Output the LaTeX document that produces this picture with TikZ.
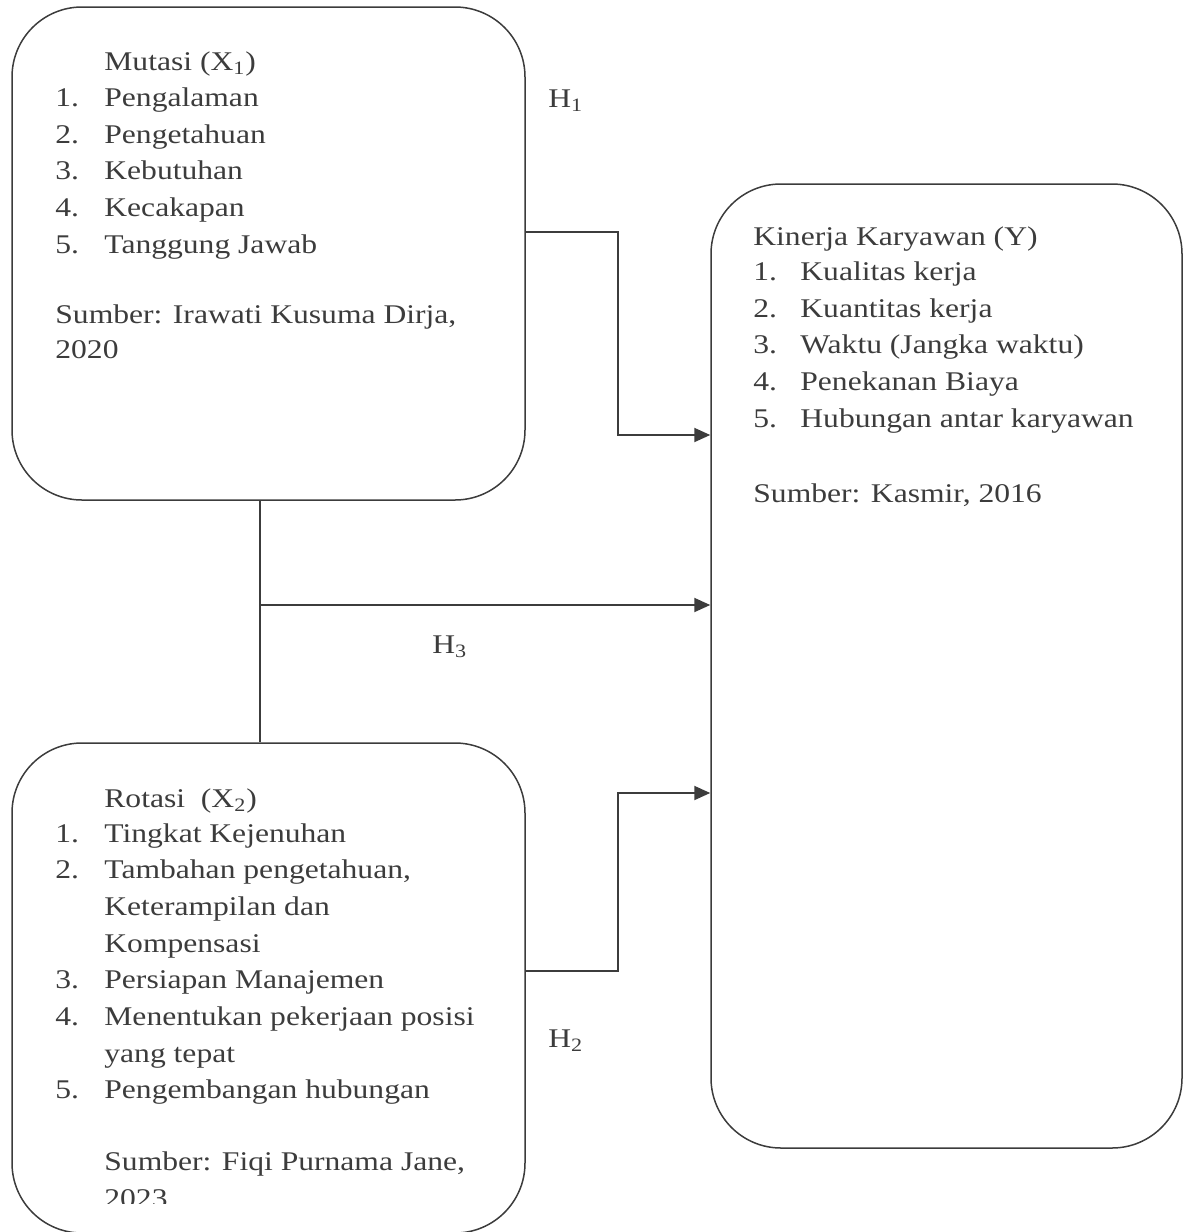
\documentclass[tikz,border=0pt]{standalone}
\usepackage{fontspec}
\setmainfont[FakeStretch=1.17]{Liberation Serif}
\usetikzlibrary{arrows.meta}
\definecolor{ink}{HTML}{3C3C3C}
\tikzset{
  x=0.5pt, y=-0.5pt,
  roundbox/.style={draw=ink, line width=0.75pt, rounded corners=35pt, rectangle, inner sep=0pt},
  txt/.style={anchor=base west, inner sep=0pt, text=ink, font=\fontsize{13.5}{16}\selectfont},
  conn/.style={draw=ink, line width=1pt},
  arr/.style={conn, -{Triangle[length=8pt,width=7pt]}},
}
\begin{document}
\begin{tikzpicture}
\useasboundingbox (0,0) rectangle (1183,1232);
% boxes
\node[roundbox, minimum width=256.5pt, minimum height=246.5pt] (x1) at (268.5,253.5) {};
\node[roundbox, minimum width=235.5pt, minimum height=482pt] (y) at (946.5,666) {};
\node[roundbox, minimum width=256.5pt, minimum height=245pt] (x2) at (268.5,988) {};

% X1 text
\node[txt] (x1h) at (104,70) {Mutasi (X\textsubscript{1})};
\node[txt] (x1n1) at (55,106) {1.};  \node[txt] (x1t1) at (104,106) {Pengalaman};
\node[txt] (x1n2) at (55,143) {2.};  \node[txt] (x1t2) at (104,143) {Pengetahuan};
\node[txt] (x1n3) at (55,179) {3.};  \node[txt] (x1t3) at (104,179) {Kebutuhan};
\node[txt] (x1n4) at (55,216) {4.};  \node[txt] (x1t4) at (104,216) {Kecakapan};
\node[txt] (x1n5) at (55,253) {5.};  \node[txt] (x1t5) at (104,253) {Tanggung Jawab};
\node[txt] (x1s1) at (55,323) {Sumber: Irawati Kusuma Dirja,};
\node[txt] (x1s2) at (55,358) {2020};

% Y text
\node[txt] (yh) at (753,245) {Kinerja Karyawan (Y)};
\node[txt] (yn1) at (753,280) {1.};  \node[txt] (yt1) at (800,280) {Kualitas kerja};
\node[txt] (yn2) at (753,317) {2.};  \node[txt] (yt2) at (800,317) {Kuantitas kerja};
\node[txt] (yn3) at (753,353) {3.};  \node[txt] (yt3) at (800,353) {Waktu (Jangka waktu)};
\node[txt] (yn4) at (753,390) {4.};  \node[txt] (yt4) at (800,390) {Penekanan Biaya};
\node[txt] (yn5) at (753,427) {5.};  \node[txt] (yt5) at (800,427) {Hubungan antar karyawan};
\node[txt] (ys) at (753,502) {Sumber: Kasmir, 2016};

% X2 text
\node[txt] (x2h) at (104,807) {Rotasi\ \ (X\textsubscript{2})};
\node[txt] (x2n1) at (55,842) {1.};  \node[txt] (x2t1) at (104,842) {Tingkat Kejenuhan};
\node[txt] (x2n2) at (55,878) {2.};  \node[txt] (x2t2) at (104,878) {Tambahan pengetahuan,};
\node[txt] (x2t2b) at (104,915) {Keterampilan dan};
\node[txt] (x2t2c) at (104,952) {Kompensasi};
\node[txt] (x2n3) at (55,988) {3.};  \node[txt] (x2t3) at (104,988) {Persiapan Manajemen};
\node[txt] (x2n4) at (55,1025) {4.}; \node[txt] (x2t4) at (104,1025) {Menentukan pekerjaan posisi};
\node[txt] (x2t4b) at (104,1062) {yang tepat};
\node[txt] (x2n5) at (55,1098) {5.}; \node[txt] (x2t5) at (104,1098) {Pengembangan hubungan};
\node[txt] (x2s1) at (104,1170) {Sumber: Fiqi Purnama Jane,};
\begin{scope}
\clip (90,1150) rectangle (400,1203);
\node[txt] (x2s2) at (104,1207) {2023};
\end{scope}

% hypothesis labels
\node[txt] (h1) at (548,107) {H\textsubscript{1}};
\node[txt] (h2) at (548,1047) {H\textsubscript{2}};
\node[txt] (h3) at (432,653) {H\textsubscript{3}};

% connectors
\coordinate (j1) at (618,232);
\coordinate (a1) at (618,435);
\draw[arr] (x1.east |- j1) -- (j1) |- (y.west |- a1);

\coordinate (v3) at (260,605);
\draw[conn] (x1.south -| v3) -- (x2.north -| v3);
\draw[arr] (v3) -- (y.west |- v3);

\coordinate (j2) at (618,971);
\coordinate (a2) at (618,793);
\draw[arr] (x2.east |- j2) -- (j2) |- (y.west |- a2);
\end{tikzpicture}
\end{document}
